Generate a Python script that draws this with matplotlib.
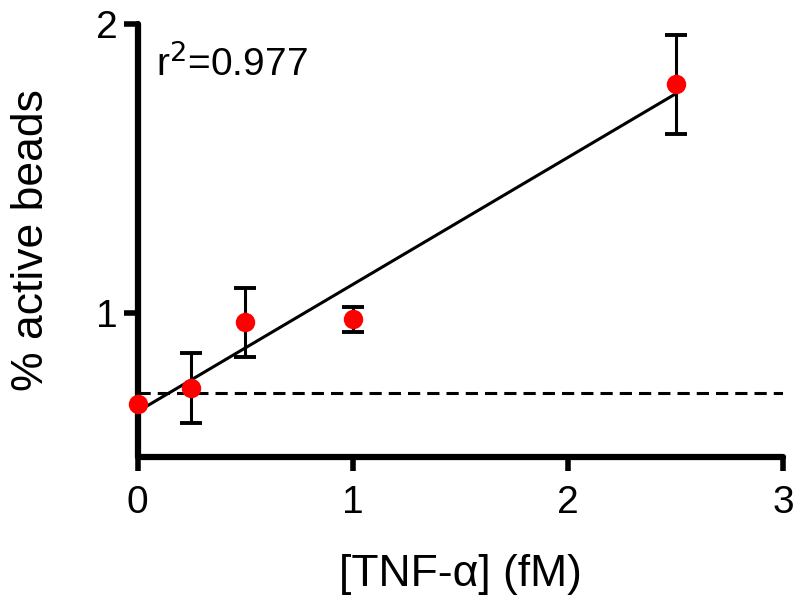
import numpy as np
import matplotlib
matplotlib.use("Agg")
import matplotlib.pyplot as plt

plt.rcParams['font.family'] = ['Liberation Sans', 'DejaVu Sans']

conc = [0.0, 0.25, 0.5, 1.0, 2.5]
active = [0.684, 0.739, 0.966, 0.976, 1.79]
err = [0.0, 0.12, 0.12, 0.042, 0.172]
baseline = 0.722
r2_text = "r$^2$=0.977"
xticks = [0, 1, 2, 3]
yticks = [1, 2]

fig = plt.figure(figsize=(8, 6.05), dpi=100)
ax = fig.add_axes([0.1719, 0.2446, 0.807, 0.7165])

# linear fit
slope, icpt = np.polyfit(conc, active, 1)
xf = np.array([min(conc), max(conc)])
ax.plot(xf, slope * xf + icpt, color='black', lw=2.2, zorder=3, clip_on=False)

ax.axhline(baseline, color='black', lw=2.2, ls=(0, (4, 2.3)), zorder=2)

ex = [c for c, e in zip(conc, err) if e > 0]
ey = [a for a, e in zip(active, err) if e > 0]
ee = [e for e in err if e > 0]
ax.errorbar(ex, ey, yerr=ee, fmt='none', ecolor='black', elinewidth=2.2,
            capsize=8, capthick=2.8, zorder=4, clip_on=False)
ax.plot(conc, active, 'o', color='#ff0000', ms=14, mec='none', zorder=5, clip_on=False)

ax.set_xlim(0, 3)
ax.set_ylim(0.5, 2)
ax.set_xticks(xticks)
ax.set_yticks(yticks)
ax.set_xticklabels([str(t) for t in xticks])
ax.set_yticklabels([str(t) for t in yticks])

for s in ['top', 'right']:
    ax.spines[s].set_visible(False)
for s in ['left', 'bottom']:
    ax.spines[s].set_linewidth(4.5)
    ax.spines[s].set_capstyle('round')
ax.tick_params(width=4.0, length=10, labelsize=28)
ax.tick_params(axis='x', pad=10)
ax.tick_params(axis='y', pad=4)

ax.set_xlabel("[TNF-α] (fM)", fontsize=32, labelpad=24)
ax.set_ylabel("% active beads", fontsize=32, labelpad=32)

ax.text(0.028, 0.878, r2_text, transform=ax.transAxes, fontsize=28, va='baseline', ha='left')

fig.savefig("out.png", dpi=100)
